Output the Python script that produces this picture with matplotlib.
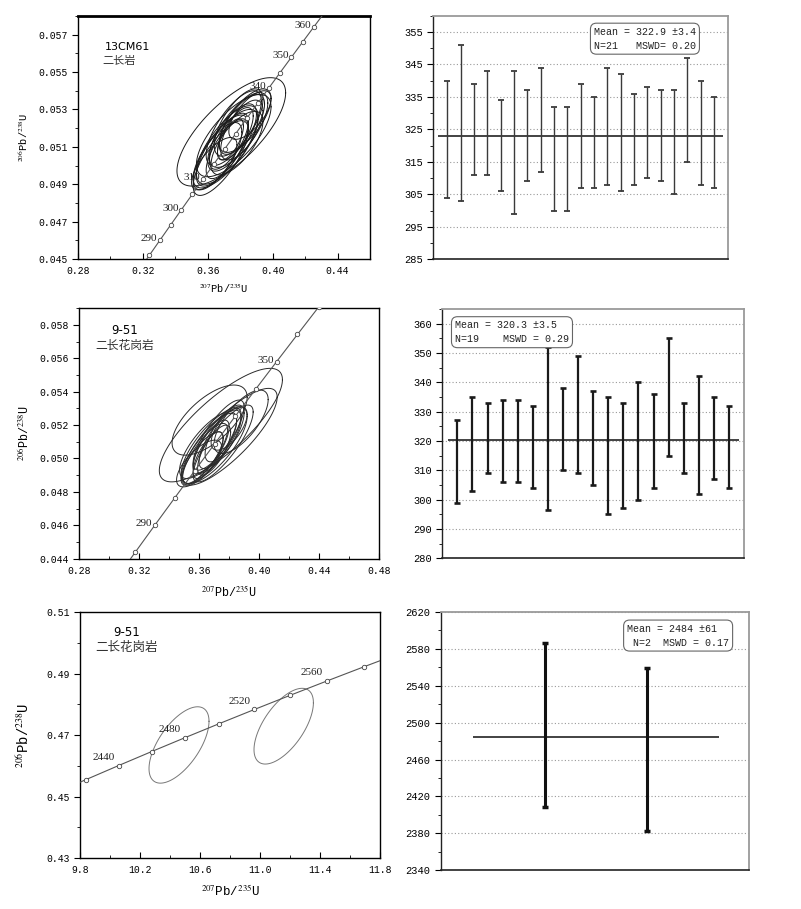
import numpy as np
import matplotlib
matplotlib.use('Agg')
import matplotlib.pyplot as plt
from matplotlib.ticker import MultipleLocator, FormatStrFormatter

plt.rcParams['font.family'] = ['Liberation Mono', 'DejaVu Sans']
plt.rcParams['mathtext.fontset'] = 'stix'

# decay constants (per year) for the concordia curve
L238 = 1.55125e-10
L235 = 9.8485e-10

# ---- sample 13CM61 ----
conc1_ages = [280, 285, 290, 295, 300, 305, 310, 315, 320, 325, 330, 335,
              340, 345, 350, 355, 360, 365, 370]
conc1_labels = [290, 300, 310, 340, 350, 360]
# ellipses: centre x (207/235), centre y (206/238), half width, half height, rho
ell1_x = [0.3745, 0.376, 0.372, 0.379, 0.375, 0.369, 0.381, 0.373, 0.377, 0.374, 0.366,
          0.368, 0.383, 0.379, 0.371, 0.381, 0.372, 0.376, 0.386, 0.364, 0.378]
ell1_y = [0.0518, 0.0516, 0.0511, 0.0519, 0.0515, 0.0508, 0.0522, 0.0513, 0.0517, 0.0514, 0.0505,
          0.0504, 0.0524, 0.0523, 0.0509, 0.0519, 0.0509, 0.0520, 0.0527, 0.0501, 0.0512]
ell1_sx = [0.0335, 0.023, 0.019, 0.018, 0.015, 0.016, 0.014, 0.012, 0.011, 0.008, 0.015,
           0.017, 0.016, 0.015, 0.020, 0.013, 0.013, 0.017, 0.013, 0.014, 0.016]
ell1_sy = [0.0029, 0.0022, 0.0021, 0.0020, 0.0018, 0.0019, 0.0016, 0.0015, 0.0014, 0.0011, 0.0018,
           0.0020, 0.0017, 0.0018, 0.0021, 0.0016, 0.0016, 0.0020, 0.0013, 0.0014, 0.0017]
ell1_rho = [0.72, 0.70, 0.72, 0.72, 0.70, 0.72, 0.68, 0.70, 0.68, 0.65, 0.72,
            0.75, 0.70, 0.68, 0.75, 0.65, 0.72, 0.72, 0.68, 0.72, 0.68]
age1_hi = [340, 351, 339, 343, 334, 343, 337, 344, 332, 332, 339,
           335, 344, 342, 336, 338, 337, 337, 347, 340, 335]
age1_lo = [304, 303, 311, 311, 306, 299, 309, 312, 300, 300, 307,
           307, 308, 306, 308, 310, 309, 305, 315, 308, 307]
mean1 = 322.9
text1 = 'Mean = 322.9 ±3.4\nN=21   MSWD= 0.20'

# ---- sample 9-51 (Variscan zircons) ----
conc2_ages = [270, 280, 290, 300, 310, 320, 330, 340, 350, 360, 370]
conc2_labels = [290, 350]
ell2_x = [0.3745, 0.367, 0.380, 0.388, 0.370, 0.367, 0.372, 0.364, 0.374, 0.368,
          0.377, 0.362, 0.370, 0.366, 0.373, 0.380, 0.366, 0.360, 0.376]
ell2_y = [0.0520, 0.0523, 0.0513, 0.0522, 0.0508, 0.0506, 0.0510, 0.0503, 0.0512, 0.0507,
          0.0515, 0.0500, 0.0505, 0.0502, 0.0514, 0.0518, 0.0508, 0.0497, 0.0509]
ell2_sx = [0.041, 0.025, 0.032, 0.018, 0.022, 0.018, 0.016, 0.015, 0.014, 0.012,
           0.013, 0.014, 0.011, 0.010, 0.017, 0.012, 0.019, 0.015, 0.020]
ell2_sy = [0.0034, 0.0021, 0.0029, 0.0019, 0.0023, 0.0021, 0.0019, 0.0018, 0.0018, 0.0016,
           0.0017, 0.0016, 0.0015, 0.0014, 0.0021, 0.0013, 0.0020, 0.0014, 0.0023]
ell2_rho = [0.80, 0.65, 0.82, 0.70, 0.75, 0.78, 0.75, 0.80, 0.78, 0.75,
            0.72, 0.78, 0.72, 0.72, 0.80, 0.65, 0.75, 0.70, 0.82]
age2_hi = [327, 335, 333, 334, 334, 332, 352, 338, 349, 337,
           335, 333, 340, 336, 355, 333, 342, 335, 332]
age2_lo = [299, 303, 309, 306, 306, 304, 296.5, 310, 309, 305,
           295, 297, 300, 304, 315, 309, 302, 307, 304]
mean2 = 320.3
text2 = 'Mean = 320.3 ±3.5\nN=19    MSWD = 0.29'

# ---- sample 9-51 (inherited zircons) ----
conc3_ages = [2400, 2420, 2440, 2460, 2480, 2500, 2520, 2540, 2560, 2580, 2600]
conc3_labels = [2440, 2480, 2520, 2560]
ell3_x = [10.46, 11.158]
ell3_y = [0.4668, 0.4729]
ell3_sx = [0.200, 0.198]
ell3_sy = [0.0124, 0.0123]
ell3_rho = [0.62, 0.62]
age3_hi = [2586, 2559]
age3_lo = [2409, 2383]
mean3 = 2484
text3 = 'Mean = 2484 ±61\n N=2  MSWD = 0.17'


def concordia(ages):
    t = np.array(ages, dtype=float) * 1e6
    return np.exp(L235 * t) - 1, np.exp(L238 * t) - 1


def draw_ellipse(ax, cx, cy, sx, sy, rho, **kw):
    t = np.linspace(0, 2 * np.pi, 120)
    x = cx + sx * np.cos(t)
    y = cy + sy * (rho * np.cos(t) + np.sqrt(1 - rho ** 2) * np.sin(t))
    ax.plot(x, y, **kw)


def conc_panel(ax, ages, labels, ex, ey, esx, esy, erho, ecol, lab_off):
    cx, cy = concordia(ages)
    for i in range(len(ex)):
        draw_ellipse(ax, ex[i], ey[i], esx[i], esy[i], erho[i], color=ecol, lw=0.7, zorder=2)
    ax.plot(cx, cy, color='#555555', lw=0.8, marker='o', ms=3.2, mfc='white',
            mec='#444444', mew=0.6, zorder=3)
    lx, ly = concordia(labels)
    for a, x, y in zip(labels, lx, ly):
        ax.annotate(str(a), (x, y), xytext=lab_off, textcoords='offset points',
                    ha='right', va='center', fontsize=8, color='#222222',
                    family=['Liberation Serif'], zorder=4)
    for s in ax.spines.values():
        s.set_linewidth(1.0)
    ax.tick_params(axis='y', which='both', direction='out', labelsize=7)
    ax.tick_params(axis='x', which='both', direction='in', labelsize=7, pad=5)
    ax.tick_params(which='major', length=4)
    ax.tick_params(which='minor', length=2.5)


def mean_panel(ax, hi, lo, mean, text, xlim, ylim, major, minor, mline, lw, col, box_xy):
    x = np.arange(1, len(hi) + 1)
    ax.vlines(x, lo, hi, color=col, lw=lw, zorder=3)
    ax.plot(x, hi, ls='none', marker='_', ms=4, mew=lw + 0.3, color=col, zorder=3)
    ax.plot(x, lo, ls='none', marker='_', ms=4, mew=lw + 0.3, color=col, zorder=3)
    ax.hlines(mean, mline[0], mline[1], color='#222222', lw=1.2, zorder=2)
    ax.set_xlim(*xlim)
    ax.set_ylim(*ylim)
    ax.yaxis.set_major_locator(major)
    ax.yaxis.set_minor_locator(MultipleLocator(minor))
    ax.set_xticks([])
    ax.grid(axis='y', which='major', ls=(0, (1, 2)), color='#999999', lw=0.8)
    ax.tick_params(axis='y', which='both', direction='out', labelsize=7.5)
    ax.tick_params(which='major', length=4)
    ax.tick_params(which='minor', length=2.5)
    ax.spines['left'].set_color('#222222')
    ax.spines['bottom'].set_color('#222222')
    ax.spines['left'].set_linewidth(1.0)
    ax.spines['bottom'].set_linewidth(1.2)
    for s in ['top', 'right']:
        ax.spines[s].set_color('#9a9a9a')
        ax.spines[s].set_linewidth(1.3)
    ax.text(box_xy[0], box_xy[1], text, transform=ax.transAxes, ha='left', va='top',
            fontsize=7.2, linespacing=1.5, color='#222222', zorder=5,
            bbox=dict(boxstyle='round,pad=0.35,rounding_size=0.6', fc='white',
                      ec='#666666', lw=0.8))


fig = plt.figure(figsize=(8.01, 9.09), dpi=100)

xlab = r'$^{207}$Pb/$^{235}$U'
ylab = r'$^{206}$Pb/$^{238}$U'

# panel 1
ax1 = fig.add_axes([0.0974, 0.7151, 0.3645, 0.2673])
conc_panel(ax1, conc1_ages, conc1_labels, ell1_x, ell1_y, ell1_sx, ell1_sy, ell1_rho,
           '#1a1a1a', (-2, 1))
ax1.set_xlim(0.28, 0.46)
ax1.set_ylim(0.045, 0.058)
ax1.set_xticks([0.28, 0.32, 0.36, 0.40, 0.44])
ax1.set_yticks([0.045, 0.047, 0.049, 0.051, 0.053, 0.055, 0.057])
ax1.xaxis.set_minor_locator(MultipleLocator(0.02))
ax1.yaxis.set_minor_locator(MultipleLocator(0.001))
ax1.xaxis.set_major_formatter(FormatStrFormatter('%.2f'))
ax1.yaxis.set_major_formatter(FormatStrFormatter('%.3f'))
ax1.spines['top'].set_linewidth(2.0)
ax1.set_xlabel(xlab, fontsize=7.5, labelpad=4)
ax1.set_ylabel(ylab, fontsize=7.5, labelpad=6)
ax1.text(0.092, 0.872, '13CM61', transform=ax1.transAxes, fontsize=8,
         family=['DejaVu Sans'], va='center')
ax1.text(0.085, 0.815, '二长岩', transform=ax1.transAxes, fontsize=8,
         family=['Noto Sans CJK SC'], va='center', color='#333333')

# panel 2
ax2 = fig.add_axes([0.541, 0.7147, 0.3679, 0.268])
mean_panel(ax2, age1_hi, age1_lo, mean1, text1, (-0.05, 22.05), (285, 360),
           MultipleLocator(10, offset=5), 5, (0.3, 21.7), 1.0, '#3a3a3a', (0.545, 0.955))

# panel 3
ax3 = fig.add_axes([0.0986, 0.3854, 0.3749, 0.2755])
conc_panel(ax3, conc2_ages, conc2_labels, ell2_x, ell2_y, ell2_sx, ell2_sy, ell2_rho,
           '#2a2a2a', (-2, 1))
ax3.set_xlim(0.28, 0.48)
ax3.set_ylim(0.044, 0.059)
ax3.set_xticks([0.28, 0.32, 0.36, 0.40, 0.44, 0.48])
ax3.set_yticks([0.044, 0.046, 0.048, 0.050, 0.052, 0.054, 0.056, 0.058])
ax3.xaxis.set_minor_locator(MultipleLocator(0.02))
ax3.yaxis.set_minor_locator(MultipleLocator(0.001))
ax3.xaxis.set_major_formatter(FormatStrFormatter('%.2f'))
ax3.yaxis.set_major_formatter(FormatStrFormatter('%.3f'))
ax3.set_xlabel(xlab, fontsize=8.5, labelpad=6)
ax3.set_ylabel(ylab, fontsize=8.5, labelpad=6)
ax3.text(0.107, 0.913, '9-51', transform=ax3.transAxes, fontsize=8.5,
         family=['DejaVu Sans'], va='center')
ax3.text(0.053, 0.853, '二长花岗岩', transform=ax3.transAxes, fontsize=8.5,
         family=['Noto Sans CJK SC'], va='center', color='#333333')

# panel 4
ax4 = fig.add_axes([0.5522, 0.3858, 0.3767, 0.2743])
mean_panel(ax4, age2_hi, age2_lo, mean2, text2, (0, 20), (280, 365),
           MultipleLocator(10), 5, (0.35, 19.65), 1.6, '#1a1a1a', (0.042, 0.955))

# panel 5
ax5 = fig.add_axes([0.0999, 0.0558, 0.3745, 0.271])
conc_panel(ax5, conc3_ages, conc3_labels, ell3_x, ell3_y, ell3_sx, ell3_sy, ell3_rho,
           '#777777', (-3, 6))
ax5.set_xlim(9.8, 11.8)
ax5.set_ylim(0.43, 0.51)
ax5.set_xticks([9.8, 10.2, 10.6, 11.0, 11.4, 11.8])
ax5.set_yticks([0.43, 0.45, 0.47, 0.49, 0.51])
ax5.xaxis.set_minor_locator(MultipleLocator(0.2))
ax5.yaxis.set_minor_locator(MultipleLocator(0.01))
ax5.xaxis.set_major_formatter(FormatStrFormatter('%.1f'))
ax5.yaxis.set_major_formatter(FormatStrFormatter('%.2f'))
ax5.set_xlabel(xlab, fontsize=9, labelpad=6)
ax5.set_ylabel(ylab, fontsize=10, labelpad=10)
ax5.text(0.11, 0.915, '9-51', transform=ax5.transAxes, fontsize=8.5,
         family=['DejaVu Sans'], va='center')
ax5.text(0.05, 0.854, '二长花岗岩', transform=ax5.transAxes, fontsize=9,
         family=['Noto Sans CJK SC'], va='center', color='#333333')

# panel 6
ax6 = fig.add_axes([0.5502, 0.0426, 0.3853, 0.2842])
mean_panel(ax6, age3_hi, age3_lo, mean3, text3, (-0.02, 3.0), (2340, 2620),
           MultipleLocator(40, offset=20), 20, (0.3, 2.7), 2.2, '#111111', (0.604, 0.955))

fig.savefig('out.png', dpi=100)
